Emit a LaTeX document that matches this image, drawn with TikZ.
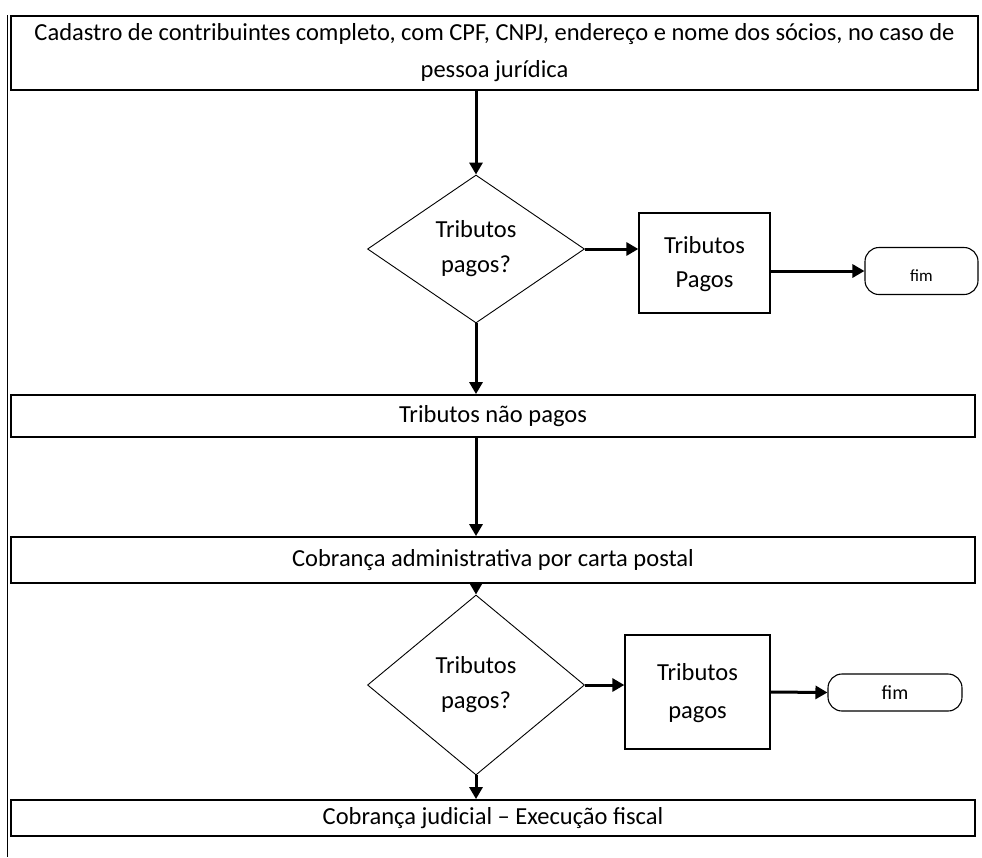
\documentclass[tikz,border=0pt]{standalone}
\usepackage{fontspec}
\setmainfont{Carlito}
\usetikzlibrary{arrows.meta,shapes.geometric}
\begin{document}
\begin{tikzpicture}[x=1pt,y=-1pt,
  box/.style={draw, line width=1.8pt, inner sep=0pt, align=center, font=\fontsize{24.5}{37}\selectfont},
  smallbox/.style={draw, line width=1.3pt, inner sep=0pt, align=center, font=\fontsize{24.5}{36}\selectfont},
  dec/.style={draw, diamond, line width=0.9pt, inner sep=0pt, align=center, font=\fontsize{24.5}{35}\selectfont},
  term/.style={draw, rounded corners=14pt, line width=1.1pt, inner sep=0pt},
  arr/.style={-{Triangle[length=12pt,width=13pt]}, line width=3pt}]
\useasboundingbox (0,0) rectangle (982,857);
\draw[line width=0.8pt] (7,15) -- (7,857);

\node[box, minimum width=967pt, minimum height=74pt] (cad) at (494.5,53)
  {Cadastro de contribuintes completo, com CPF, CNPJ, endereço e nome dos sócios, no caso de\\pessoa jurídica};
\node[dec, minimum width=217pt, minimum height=148pt] (d1) at (476,249) {Tributos\\pagos?};
\node[smallbox, minimum width=131pt, minimum height=100pt] (tp1) at (704.5,263) {\raisebox{11pt}{\begin{tabular}{@{}c@{}}Tributos\\[-2pt]Pagos\end{tabular}}};
\node[term, minimum width=113pt, minimum height=47pt, font=\fontsize{17}{20}\selectfont] (fim1) at (921.5,271) {\raisebox{-10pt}[0pt][0pt]{fim}};

\node[box, minimum width=964pt, minimum height=42pt] (tpn) at (493,416) {Tributos não pagos};
\node[box, minimum width=964pt, minimum height=46pt] (cob) at (493,560) {Cobrança administrativa por carta postal};

\node[dec, minimum width=217pt, minimum height=180pt] (d2) at (476,685) {Tributos\\pagos?};
\node[smallbox, minimum width=145pt, minimum height=114pt] (tp2) at (697.5,692) {\begin{tabular}{@{}c@{}}Tributos\\[2pt]pagos\end{tabular}};
\node[term, minimum width=134pt, minimum height=37pt, font=\fontsize{20}{24}\selectfont] (fim2) at (895,692.5) {fim};

\node[box, minimum width=964pt, minimum height=36pt] (jud) at (493,818) {Cobrança judicial – Execução fiscal};

\draw[arr] (cad.south -| d1.north) -- (d1.north);
\draw[arr] (d1.east) -- (d1.east -| tp1.west);
\draw[arr] (tp1.east |- fim1.west) -- (fim1.west);
\draw[arr] (d1.south) -- (d1.south |- tpn.north);
\draw[arr] (tpn.south -| d1.south) -- (cob.north -| d1.south);
\draw[arr] (cob.south -| d2.north) -- (d2.north);
\draw[arr] (d2.east) -- (d2.east -| tp2.west);
\draw[arr] (tp2.east) -- (fim2.west);
\draw[arr] (d2.south) -- (d2.south |- jud.north);
\end{tikzpicture}
\end{document}
